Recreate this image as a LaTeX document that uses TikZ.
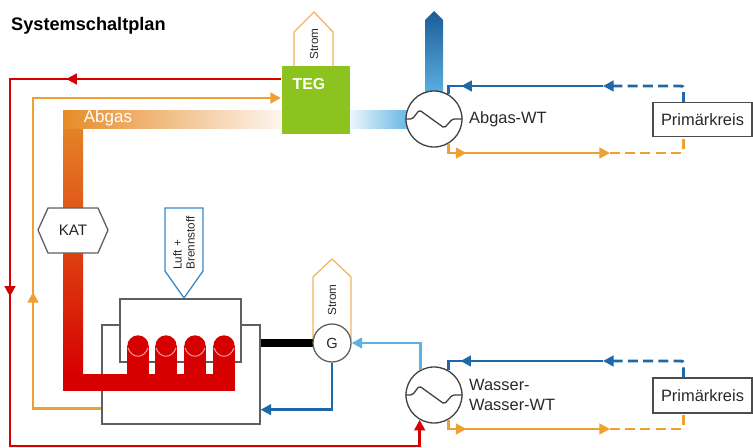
\documentclass[tikz,border=0pt]{standalone}
\usepackage{fontspec}
\setmainfont{Liberation Sans}
\usetikzlibrary{arrows.meta,decorations.markings}

\definecolor{flowred}{RGB}{214,0,0}
\definecolor{floworange}{RGB}{238,160,50}
\definecolor{flowblue}{RGB}{31,104,168}
\definecolor{flowlight}{RGB}{93,178,228}
\definecolor{exhaustdark}{RGB}{28,92,152}
\definecolor{teggreen}{RGB}{141,195,30}
\definecolor{bandorange}{RGB}{230,140,40}
\definecolor{bandmid}{RGB}{224,108,32}
\definecolor{stromorange}{RGB}{242,180,100}
\definecolor{luftblue}{RGB}{60,135,195}
\definecolor{outline}{RGB}{95,95,95}
\definecolor{labelgray}{RGB}{40,40,40}

\begin{document}
\begin{tikzpicture}[x=0.03cm,y=-0.03cm,
    >={Triangle[length=9pt,width=9pt]},
    pipe/.style={line width=2.5pt},
    backpipe/.style={pipe,dash pattern=on 8.5pt off 4.5pt,rounded corners=2pt},
    flow/.style={postaction={decorate,decoration={markings,
        mark=at position #1 with {\arrow{>}}}}},
    blockframe/.style={draw=outline,line width=1.1pt,fill=white,inner sep=0},
    wt/.style={circle,draw=black!75,line width=1.1pt,fill=white,
        minimum size=1.68cm,inner sep=0},
    txt/.style={inner sep=0,text=labelgray,font=\fontsize{14}{17}\selectfont},
    rottxt/.style={inner sep=0,rotate=90,text=labelgray,
        font=\fontsize{10}{11}\selectfont},
    strom/.style={draw=stromorange,line width=1.1pt},
    cylring/.style={draw=white!65!flowred,line width=0.8pt}]

\useasboundingbox (0,0) rectangle (753,448);

\node[anchor=base west,inner sep=0,font=\bfseries\fontsize{15.5}{18}\selectfont]
    (title) at (11,31) {Systemschaltplan};

% Motor
\node[blockframe,minimum width=4.74cm,minimum height=2.97cm] (engine) at (181,374.5) {};
\node[blockframe,minimum width=3.63cm,minimum height=1.89cm] (head) at (180.5,330.5) {};

% Abgasstrang vom Motor zum TEG
\shade[top color=bandorange,middle color=bandmid,bottom color=flowred]
    (63,110) rectangle (83,374);
\shade[left color=bandorange,right color=bandorange!8] (63,110) rectangle (282,128);
\fill[flowred] (63,374) rectangle (235,391);
\foreach \c in {138,166,195,224} {
    \fill[flowred] (\c-11,346) rectangle (\c+11,374);
    \fill[flowred] (\c,346) circle[radius=0.32cm];
    \draw[cylring] (\c-10,348) .. controls (\c-6,359) and (\c+6,359) .. (\c+10,348);
}
\node[txt,text=white,font=\fontsize{14.5}{17}\selectfont] (abgas) at (108,118) {Abgas};

% Katalysator
\draw[blockframe] (38,230) -- (48,208) -- (98,208) -- (108,230) -- (98,253) -- (48,253) -- cycle;
\node[txt,font=\fontsize{13}{15}\selectfont] (kat) at (73,230.5) {KAT};

% Luft + Brennstoff
\draw[draw=luftblue,line width=1.1pt] (165,208) -- (203,208) -- (203,271) -- (184,298) -- (165,271) -- cycle;
\node[rottxt,align=left] (luft) at (184,243) {Luft +\\Brennstoff};

% TEG
\node[fill=teggreen,minimum size=2.04cm,inner sep=0] (teg) at (316,100) {};
\node[txt,text=white,font=\bfseries\fontsize{13.5}{16}\selectfont] (tegname) at (309,84) {TEG};
\draw[strom] (294,66) -- (294,32) -- (314,12) -- (333,32) -- (333,66);
\node[rottxt] (strom1) at (314,44) {Strom};
\coordinate (tegout) at (281,79);
\coordinate (tegin) at (281,98);

% Abgas zum Abgas-WT und ins Freie
\shade[left color=flowlight!12,right color=flowlight] (350,110) rectangle (412,128);
\shade[top color=exhaustdark,bottom color=flowlight]
    (425,96) -- (425,20) -- (434,11) -- (443,20) -- (443,96) -- cycle;

% Waermetauscher
\node[wt] (abgaswt) at (434,119) {};
\node[wt] (wasserwt) at (434,395) {};
\foreach \w in {abgaswt,wasserwt}
    \draw[black!75,line width=1.1pt,rounded corners=1.5pt]
        (\w.west) -- ++(7,0) -- ++(7,-9) -- ++(25,18) -- ++(8,-9) -- (\w.east);
\node[txt,anchor=west] (abgaswtname) at (469,119) {Abgas-WT};
\node[txt,anchor=west,align=left] (wasserwtname) at (469,395) {Wasser-\\Wasser-WT};

% Generator
\draw[strom] (313,340) -- (313,277) -- (332,259) -- (351,277) -- (351,340);
\node[rottxt] (strom2) at (332,300) {Strom};
\draw[line width=7pt] (engine.east |- 332,343) -- (332-19,343);
\node[circle,draw=outline,line width=1.1pt,fill=white,minimum size=1.14cm,inner sep=0,
    txt,font=\fontsize{12.5}{15}\selectfont] (gen) at (332,343) {G};

% Primaerkreise
\node[blockframe,draw=black!70,minimum width=2.97cm,minimum height=1cm,txt]
    (prim1) at (702.5,119.5) {Primärkreis};
\node[blockframe,draw=black!70,minimum width=2.97cm,minimum height=1.05cm,txt]
    (prim2) at (702.5,395.5) {Primärkreis};

% Kreislaeufe
\draw[pipe,flowred,flow=0.2,flow=0.455,->] (tegout) -- (10,79) -- (10,446) -| (wasserwt.240);
\draw[pipe,floworange,flow=0.295,->] ([shift={(0,-16)}]engine.south west) -| (33,98) -- (tegin);
\draw[pipe,flowblue,->] (gen.south) |- ([shift={(0,-15)}]engine.south east);
\draw[pipe,flowlight,->] (wasserwt.118) |- (gen.east);

\draw[backpipe,flowblue,->] ([xshift=-0.57cm]prim1.north) |- (603,86);
\draw[pipe,flowblue,flow=0.87] (603,86) -| (abgaswt.60);
\draw[pipe,floworange,flow=0.16,->] (abgaswt.-60) |- (610,153);
\draw[backpipe,floworange] (610,153) -| ([xshift=-0.57cm]prim1.south);

\draw[backpipe,flowblue,->] ([xshift=-0.57cm]prim2.north) |- (603,361);
\draw[pipe,flowblue,flow=0.87] (603,361) -| (wasserwt.60);
\draw[pipe,floworange,flow=0.16,->] (wasserwt.-60) |- (610,429);
\draw[backpipe,floworange] (610,429) -| ([xshift=-0.57cm]prim2.south);
\end{tikzpicture}
\end{document}
